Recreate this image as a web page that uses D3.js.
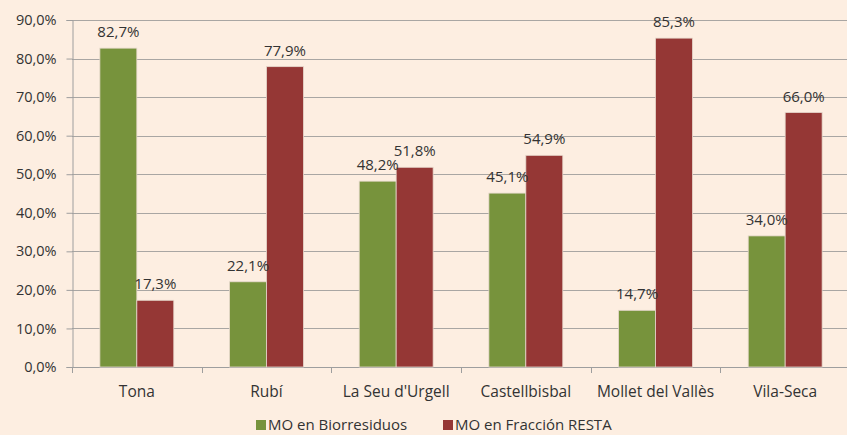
<!DOCTYPE html>
<html>
<head>
<meta charset="utf-8">
<script src="https://cdn.jsdelivr.net/npm/d3@7"></script>
<style>
  html, body { margin: 0; padding: 0; background: #FDEEE1; overflow: hidden; }
  svg { display: block; }
  text { font-family: "Open Sans", "Noto Sans", sans-serif; fill: #333; }
</style>
</head>
<body>
<svg id="chart" width="847" height="435"></svg>
<script>
// Municipalities
const categories = ["Tona", "Rubí", "La Seu d'Urgell", "Castellbisbal", "Mollet del Vallès", "Vila-Seca"];
// Organic matter share (%)
const bioValues   = [82.7, 22.1, 48.2, 45.1, 14.7, 34.0];
const restaValues = [17.3, 77.9, 51.8, 54.9, 85.3, 66.0];
const seriesNames = ["MO en Biorresiduos", "MO en Fracción RESTA"];
const seriesColors = ["#77933C", "#953735"];
const yTicks = [0, 10, 20, 30, 40, 50, 60, 70, 80, 90];

const svg = d3.select("#chart");
const plotLeft = 72, plotRight = 850, plotTop = 20, plotBottom = 367;

const fmt = v => d3.format(".1f")(v).replace(".", ",") + "%";

const x = d3.scaleBand().domain(categories).range([plotLeft, plotRight])
  .paddingInner(0.43).paddingOuter(0.215);
const xs = d3.scaleBand().domain([0, 1]).range([0, x.bandwidth()]);
const y = d3.scaleLinear().domain([0, 90]).range([plotBottom, plotTop]);

// Horizontal gridlines
svg.append("g").selectAll("line").data(yTicks.filter(t => t > 0)).join("line")
  .attr("x1", plotLeft).attr("x2", 847)
  .attr("y1", d => Math.round(y(d)) + 0.5).attr("y2", d => Math.round(y(d)) + 0.5)
  .attr("stroke", "#A9A6A3").attr("stroke-width", 1.2);

// Y axis
const yAxis = svg.append("g").attr("transform", `translate(${plotLeft + 0.5},0)`)
  .call(d3.axisLeft(y).tickValues(yTicks).tickSize(6).tickPadding(10).tickFormat(fmt));
yAxis.select(".domain").attr("stroke", "#9E9E9E");
yAxis.selectAll(".tick line").attr("stroke", "#9E9E9E");
yAxis.selectAll("text").style("font-size", "14.5px").attr("fill", "#333");

// X axis
const xAxis = svg.append("g").attr("transform", `translate(0,${plotBottom + 0.5})`)
  .call(d3.axisBottom(x).tickSize(0).tickPadding(18));
xAxis.select(".domain").attr("stroke", "#9E9E9E").attr("d", `M${plotLeft},0H847`);
xAxis.selectAll("text").style("font-size", "15.5px").attr("fill", "#333");
// category separators
const step = x.step();
svg.append("g").selectAll("line").data(d3.range(categories.length + 1)).join("line")
  .attr("x1", i => Math.round(plotLeft + i * step) + 0.5).attr("x2", i => Math.round(plotLeft + i * step) + 0.5)
  .attr("y1", plotBottom).attr("y2", plotBottom + 6)
  .attr("stroke", "#9E9E9E");

// Bars
const rows = categories.map((c, i) => ({ cat: c, vals: [bioValues[i], restaValues[i]] }));
const groups = svg.append("g").selectAll("g").data(rows).join("g")
  .attr("transform", d => `translate(${x(d.cat)},0)`);

groups.selectAll("rect").data(d => d.vals.map((v, s) => ({ v, s }))).join("rect")
  .attr("x", d => xs(d.s))
  .attr("y", d => y(d.v))
  .attr("width", xs.bandwidth())
  .attr("height", d => plotBottom - y(d.v))
  .attr("fill", d => seriesColors[d.s])
  .attr("stroke", "#E6D8CC").attr("stroke-width", 0.8);

groups.selectAll("text.val").data(d => d.vals.map((v, s) => ({ v, s }))).join("text")
  .attr("class", "val")
  .attr("x", d => xs(d.s) + xs.bandwidth() / 2)
  .attr("y", d => y(d.v) - 11)
  .attr("text-anchor", "middle")
  .style("font-size", "15px")
  .text(d => fmt(d.v));

// Legend
const legendX = [256, 443];
const legend = svg.append("g").selectAll("g").data(seriesNames).join("g")
  .attr("transform", (d, i) => `translate(${legendX[i]},420)`);
legend.append("rect").attr("width", 10).attr("height", 10)
  .attr("fill", (d, i) => seriesColors[i]);
legend.append("text").attr("x", 12).attr("y", 10)
  .style("font-size", "15px").text(d => d);
</script>
</body>
</html>
